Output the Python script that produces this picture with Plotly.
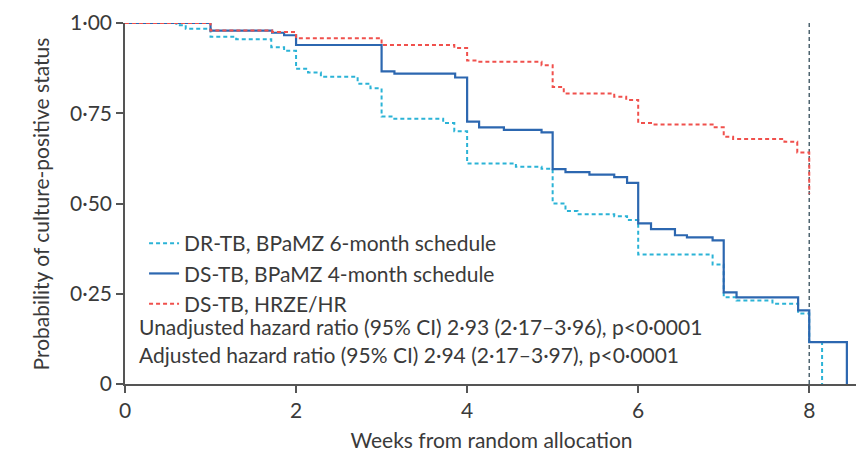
import plotly.graph_objects as go

# Kaplan-Meier step data (weeks, probability)
dr_weeks = [0, 0.6, 0.71, 1.0, 1.30, 1.71, 1.86, 2.0, 2.14, 2.29, 2.72, 2.87, 3.0, 3.13, 3.72, 3.85,
            4.0, 4.57, 4.87, 5.0, 5.15, 5.29, 5.72, 5.87, 6.0, 6.87, 7.0, 7.15, 7.57, 7.87, 8.0, 8.15]
dr_prob = [1.0, 0.994, 0.984, 0.962, 0.955, 0.933, 0.923, 0.873, 0.863, 0.851, 0.832, 0.819, 0.741, 0.735,
           0.723, 0.700, 0.611, 0.602, 0.596, 0.500, 0.479, 0.470, 0.465, 0.454, 0.359, 0.331, 0.240, 0.231,
           0.222, 0.195, 0.116, 0.0]

ds4_weeks = [0, 1.0, 1.72, 1.86, 2.0, 3.0, 3.15, 3.86, 4.0, 4.14, 4.43, 4.87, 5.0, 5.15, 5.43, 5.72, 5.87,
             6.0, 6.15, 6.43, 6.57, 6.87, 7.0, 7.15, 7.87, 8.0, 8.44]
ds4_prob = [1.0, 0.979, 0.973, 0.966, 0.939, 0.866, 0.860, 0.849, 0.727, 0.711, 0.704, 0.697, 0.595, 0.587,
            0.580, 0.573, 0.557, 0.445, 0.429, 0.412, 0.406, 0.398, 0.254, 0.240, 0.204, 0.116, 0.0]

hr_weeks = [0, 1.0, 1.72, 2.0, 3.0, 3.85, 4.0, 4.12, 4.87, 5.0, 5.13, 5.72, 5.86, 6.0, 6.15, 6.87, 7.0,
            7.11, 7.71, 7.86, 8.0]
hr_prob = [1.0, 0.979, 0.975, 0.958, 0.939, 0.931, 0.896, 0.893, 0.883, 0.823, 0.805, 0.796, 0.787, 0.723,
           0.719, 0.711, 0.685, 0.679, 0.671, 0.641, 0.527]

series_names = ["DR-TB, BPaMZ 6-month schedule", "DS-TB, BPaMZ 4-month schedule", "DS-TB, HRZE/HR"]
x_ticks = [0, 2, 4, 6, 8]
y_ticks = [0, 0.25, 0.5, 0.75, 1.0]
y_ticktext = ["0", "0·25", "0·50", "0·75", "1·00"]
stats_lines = ["Unadjusted hazard ratio (95% CI) 2·93 (2·17–3·96), p<0·0001",
               "Adjusted hazard ratio (95% CI) 2·94 (2·17–3·97), p<0·0001"]
y_title = "Probability of culture-positive status"
x_title = "Weeks from random allocation"
cutoff_week = 8

FONT = "Lato"
FS = 21
TXT = "#3a3a3a"

fig = go.Figure()
fig.add_trace(go.Scatter(x=dr_weeks, y=dr_prob, mode="lines", line_shape="hv", name=series_names[0],
                         line=dict(color="#2bb3d6", width=2, dash="4px,3px"), cliponaxis=False))
fig.add_trace(go.Scatter(x=ds4_weeks, y=ds4_prob, mode="lines", line_shape="hv", name=series_names[1],
                         line=dict(color="#2c67b0", width=2.2), cliponaxis=False))
fig.add_trace(go.Scatter(x=hr_weeks, y=hr_prob, mode="lines", line_shape="hv", name=series_names[2],
                         line=dict(color="#f0504c", width=2, dash="4px,3px"), cliponaxis=False))

fig.add_shape(type="line", xref="x", yref="y", x0=cutoff_week, x1=cutoff_week, y0=0, y1=1.0,
              line=dict(color="#4f6570", width=1.5, dash="4px,3px"), layer="below")

for i, t in enumerate(stats_lines):
    fig.add_annotation(text=t, xref="paper", yref="paper", x=0.016, y=0.160 - i * 0.0776,
                       xanchor="left", yanchor="middle", showarrow=False,
                       font=dict(family=FONT, size=FS, color=TXT))

fig.add_annotation(text=y_title, xref="paper", yref="paper", x=-0.1146, y=0.5, textangle=-90,
                   xanchor="center", yanchor="middle", showarrow=False,
                   font=dict(family=FONT, size=FS, color=TXT))

fig.update_layout(
    width=864, height=456,
    margin=dict(l=117, r=14, t=15, b=80),
    plot_bgcolor="white", paper_bgcolor="white",
    font=dict(family=FONT, size=FS, color=TXT),
    legend=dict(x=0.026, y=0.446, xanchor="left", yanchor="top", bgcolor="rgba(0,0,0,0)",
                font=dict(family=FONT, size=FS, color=TXT), tracegroupgap=0, itemwidth=30),
    xaxis=dict(range=[0, 8.57], tickvals=x_ticks, ticks="outside", ticklen=7, tickwidth=1.5,
               tickcolor="#555", showline=True, linecolor="#555", linewidth=1.5, showgrid=False,
               zeroline=False, automargin=False, ticklabeloverflow="allow",
               title=dict(text=x_title, standoff=12, font=dict(family=FONT, size=FS, color=TXT)),
               tickfont=dict(family=FONT, size=FS, color=TXT)),
    yaxis=dict(range=[0, 1.0], tickvals=y_ticks, ticktext=y_ticktext, ticks="outside", ticklen=7,
               tickwidth=1.5, tickcolor="#555", showline=True, linecolor="#555", linewidth=1.5,
               showgrid=False, zeroline=False, automargin=False, ticklabeloverflow="allow",
               tickfont=dict(family=FONT, size=FS, color=TXT)),
)

fig.write_html("out.html")
